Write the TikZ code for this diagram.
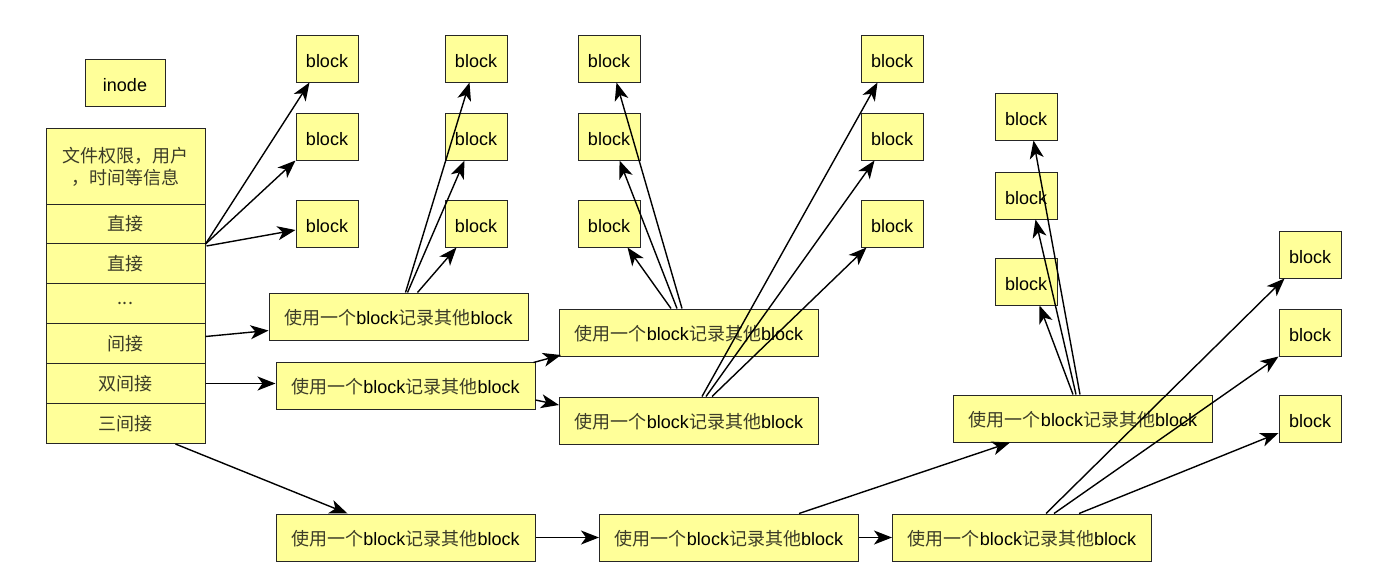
\documentclass[tikz,border=0pt]{standalone}
\usepackage{fontspec}
\setmainfont{Liberation Sans}
\newfontfamily\cjk{Noto Sans CJK SC}
\usetikzlibrary{arrows.meta,calc}
\definecolor{boxfill}{HTML}{FFFF99}
\definecolor{cjkink}{HTML}{3C3C28}
\newcommand\zh[1]{{\cjk\color{cjkink}#1}}
\newcommand\rec{\zh{使用一个}block\zh{记录其他}block}

\begin{document}
\begin{tikzpicture}[x=1pt,y=-1pt,
  every node/.style={font=\fontsize{18}{22}\selectfont},
  box/.style={draw=black!85, fill=boxfill, line width=1pt, inner sep=0pt},
  blk/.style={box, minimum width=62pt, minimum height=47pt, text height=17pt, text depth=0pt},
  wide/.style={box, minimum width=259pt, minimum height=47pt, text height=17pt, text depth=1pt},
  cell/.style={box, minimum width=159pt},
  ptr/.style={line width=1.4pt, -{Stealth[length=18pt,width=14pt,inset=5pt]}}
]
\useasboundingbox (0,0) rectangle (1389,576);

% inode label and table
\node[blk, minimum width=80pt] (inode) at (125,82.5) {inode};
\node[cell, minimum height=77pt, align=center] (r0) at (125.5,166.5) {\zh{文件权限，用户}\\\zh{，时间等信息}};
\node[cell, minimum height=39pt] (r1) at (125.5,224) {\zh{直接}};
\node[cell, minimum height=40pt] (r2) at (125.5,263.5) {\zh{直接}};
\node[cell, minimum height=40pt] (r3) at (125.5,303.5) {\zh{...}};
\node[cell, minimum height=40pt] (r4) at (125.5,343.5) {\zh{间接}};
\node[cell, minimum height=40pt] (r5) at (125.5,383.5) {\zh{双间接}};
\node[cell, minimum height=40pt] (r6) at (125.5,423.5) {\zh{三间接}};

% data blocks
\foreach \c/\x in {1/327,2/476,3/609,4/892}{
  \node[blk] (c\c a) at (\x,58.5) {block};
  \node[blk] (c\c b) at (\x,136.5) {block};
  \node[blk] (c\c c) at (\x,223.5) {block};
}
\node[blk] (c5a) at (1026,116.5) {block};
\node[blk] (c5b) at (1026,195.5) {block};
\node[blk] (c5c) at (1026,281.5) {block};
\node[blk] (c6a) at (1310,254.5) {block};
\node[blk] (c6b) at (1310,332.5) {block};
\node[blk] (c6c) at (1310,418.5) {block};

% index blocks
\node[wide] (B1) at (398.5,316.5) {\rec};
\node[wide] (B2) at (405.5,385.5) {\rec};
\node[wide] (B3) at (689,332.5) {\rec};
\node[wide] (B4) at (689,420.5) {\rec};
\node[wide] (B5) at (1083,418.5) {\rec};
\node[wide] (T1) at (405.5,537.5) {\rec};
\node[wide] (T2) at (729,537.5) {\rec};
\node[wide] (T3) at (1022,537.5) {\rec};

% direct pointers
\draw[ptr] (r1.south east) -- ($(c1a.south west)+(14,0)$);
\draw[ptr] (r1.south east) -- (c1b.south west);
\draw[ptr] ($(r2.north east)+(1,3)$) -- ($(c1c.west)+(0,6.5)$);

% single indirect
\draw[ptr] ($(r4.east)+(0,-7)$) -- ($(B1.west)+(0,14)$);
\draw[ptr] ($(B1.north west)+(137,0)$) -- ($(c2a.south west)+(25,0)$);
\draw[ptr] ($(B1.north west)+(139,0)$) -- ($(c2b.south west)+(20,0)$);
\draw[ptr] ($(B1.north west)+(149,0)$) -- ($(c2c.south west)+(12,0)$);

% double indirect
\draw[ptr] (r5.east) -- (r5.east -| B2.west);
\draw[ptr] ($(B2.north east)+(-2,1)$) -- ($(B3.south west)+(2,-1.5)$);
\draw[ptr] ($(B2.east)+(0,14.5)$) -- ($(B4.west)+(0,-15.5)$);
\draw[ptr] ($(B3.north west)+(123,0)$) -- ($(c3a.south west)+(39,0)$);
\draw[ptr] ($(B3.north west)+(118,0)$) -- ($(c3b.south west)+(42,0)$);
\draw[ptr] ($(B3.north west)+(112,0)$) -- ($(c3c.south west)+(50,0)$);
\draw[ptr] ($(B4.north west)+(143,0)$) -- ($(c4a.south west)+(17,0)$);
\draw[ptr] ($(B4.north west)+(147,0)$) -- ($(c4b.south west)+(14,0)$);
\draw[ptr] ($(B4.north west)+(153,0)$) -- ($(c4c.south west)+(6,0)$);

% triple indirect
\draw[ptr] ($(r6.south east)+(-30,0)$) -- ($(T1.north west)+(72,0)$);
\draw[ptr] (T1.east) -- (T2.west);
\draw[ptr] (T2.east) -- (T3.west);
\draw[ptr] ($(T2.north west)+(200,0)$) -- ($(B5.south west)+(57,0)$);
\draw[ptr] ($(B5.north west)+(127,0)$) -- ($(c5a.south west)+(39,0)$);
\draw[ptr] ($(B5.north west)+(123,0)$) -- ($(c5b.south west)+(41,0)$);
\draw[ptr] ($(B5.north west)+(120,0)$) -- ($(c5c.south west)+(45,0)$);
\draw[ptr] ($(T3.north west)+(154,0)$) -- ($(c6a.south west)+(6,0)$);
\draw[ptr] ($(T3.north west)+(162,0)$) -- (c6b.south west);
\draw[ptr] ($(T3.north west)+(187,0)$) -- ($(c6c.west)+(0,14.5)$);
\end{tikzpicture}
\end{document}
